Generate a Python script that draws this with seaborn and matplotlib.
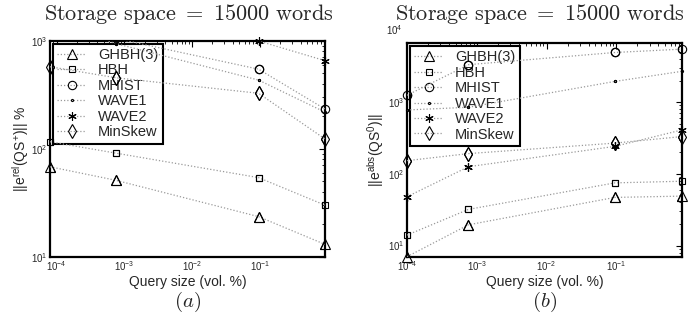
import numpy as np
import pandas as pd
import matplotlib
matplotlib.use("Agg")
import matplotlib.pyplot as plt
import seaborn as sns
from matplotlib.ticker import LogLocator, LogFormatterSciNotation, NullFormatter

sns.set_theme(style="white")
plt.rcParams["font.family"] = ["Liberation Sans", "DejaVu Sans"]
plt.rcParams["mathtext.fontset"] = "custom"
plt.rcParams["mathtext.rm"] = "Liberation Sans"
plt.rcParams["mathtext.it"] = "Liberation Sans:italic"
plt.rcParams["mathtext.bf"] = "Liberation Sans:bold"

# ---------------- data ----------------
series = ["GHBH(3)", "HBH", "MHIST", "WAVE1", "WAVE2", "MinSkew"]

query_a = [8.0e-5, 7.5e-4, 0.096, 0.92]
query_b = [1.0e-4, 7.6e-4, 0.095, 0.87]

# (a) relative error %
rel_ghbh = [68, 51, 23.5, 13]
rel_hbh = [116, 91, 54, 30]
rel_mhist = [1800, 1050, 545, 233]
rel_wave1 = [1500, 940, 432, 218]
rel_wave2 = [3000, 2000, 995, 653]
rel_minskew = [574, 454, 326, 123]

# (b) absolute error
abs_ghbh = [7, 19.5, 47, 49]
abs_hbh = [14, 32, 75, 79]
abs_mhist = [1250, 3340, 4940, 5500]
abs_wave1 = [780, 850, 1950, 2700]
abs_wave2 = [48, 126, 242, 411]
abs_minskew = [153, 192, 269, 332]

title_text = r"$\mathrm{Storage\ space\ =\ 15000\ words}$"
xlabel_text = "Query size (vol. %)"
ylabel_a = r"$\mathrm{||e^{rel}(QS^{+})||}$ %"
ylabel_b = r"$\mathrm{||e^{abs}(QS^{0})||}$"
panel_labels = [r"$(a)$", r"$(b)$"]

rel_values = [rel_ghbh, rel_hbh, rel_mhist, rel_wave1, rel_wave2, rel_minskew]
abs_values = [abs_ghbh, abs_hbh, abs_mhist, abs_wave1, abs_wave2, abs_minskew]

styles = {
    "GHBH(3)": dict(marker="^", ms=7),
    "HBH": dict(marker="s", ms=4.5),
    "MHIST": dict(marker="o", ms=6),
    "WAVE1": dict(marker=".", ms=3),
    "WAVE2": dict(marker=(6, 2, 0), ms=6),
    "MinSkew": dict(marker="d", ms=7.5),
}

W, H = 688, 327
fig = plt.figure(figsize=(W / 100, H / 100), dpi=100)
ax_a = fig.add_axes([50 / W, 1 - 256.7 / H, 275 / W, 216 / H])
ax_b = fig.add_axes([407 / W, 1 - 256.7 / H, 275 / W, 213.7 / H])


def draw(ax, xs, values, ylim, ylabel, plabel, ylab_x, title_x):
    for name, vals in zip(series, values):
        df = pd.DataFrame({"x": xs, "y": vals})
        st = styles[name]
        common = dict(marker=st["marker"], markersize=st["ms"],
                      mfc="none", mec="black", mew=0.8)
        # dotted line (clipped to the axes) with markers, used for legend
        sns.lineplot(data=df, x="x", y="y", ax=ax, color="#9a9a9a",
                     linestyle=(0, (1, 1.6)), linewidth=0.9,
                     label=name, zorder=3, **common)
        # markers inside the limits drawn whole, even on the frame
        inside = df[(df.y >= ylim[0] * 0.999) & (df.y <= ylim[1] * 1.001)]
        ax.plot(inside.x, inside.y, linestyle="none", zorder=4,
                clip_on=False, **common)
    ax.set_xscale("log")
    ax.set_yscale("log")
    ax.set_xlim(xs[0], xs[-1])
    ax.set_ylim(*ylim)
    ax.set_xticks([1e-4, 1e-3, 1e-2, 1e-1])
    ax.xaxis.set_major_formatter(LogFormatterSciNotation())
    ax.xaxis.set_minor_locator(LogLocator(base=10, subs=np.arange(2, 10), numticks=20))
    ax.yaxis.set_minor_locator(LogLocator(base=10, subs=np.arange(2, 10), numticks=20))
    ax.xaxis.set_minor_formatter(NullFormatter())
    ax.yaxis.set_minor_formatter(NullFormatter())
    ax.tick_params(which="both", direction="in", top=True, right=True,
                   color="black", labelsize=7, pad=2)
    ax.tick_params(which="major", length=4, width=0.8)
    ax.tick_params(which="minor", length=2, width=0.6)
    for sp in ax.spines.values():
        sp.set_color("black")
        sp.set_linewidth(1.6)
    ax.set_xlabel(xlabel_text, fontsize=10, labelpad=1)
    ax.set_ylabel(ylabel, fontsize=10)
    ax.yaxis.set_label_coords(ylab_x, 0.5)
    leg = ax.legend(loc="upper left", fontsize=10.5, frameon=True, fancybox=False,
                    edgecolor="black", framealpha=1, borderaxespad=0.2,
                    labelspacing=0.1, handlelength=2.0, handletextpad=0.8,
                    borderpad=0.3)
    leg.get_frame().set_linewidth(1.5)
    leg.set_zorder(1)
    pos = ax.get_position()
    cx = (pos.x0 + pos.x1) / 2
    fig.text(title_x / W, 1 - 14 / H, title_text, ha="center", va="center",
             fontsize=16, math_fontfamily="cm")
    fig.text(cx, 1 - 302 / H, plabel, ha="center", va="center",
             fontsize=15, math_fontfamily="cm")


draw(ax_a, query_a, rel_values, (10, 1000), ylabel_a, panel_labels[0], -19 / 275, 189)
draw(ax_b, query_b, abs_values, (7, 6700), ylabel_b, panel_labels[1], -21 / 275, 540)
ax_b.annotate(r"$\mathdefault{10^{4}}$", xy=(0, 1e4),
              xycoords=("axes fraction", "data"), xytext=(-3, 0),
              textcoords="offset points", ha="right", va="center",
              fontsize=7, annotation_clip=False)

fig.savefig("out.png", dpi=100)
